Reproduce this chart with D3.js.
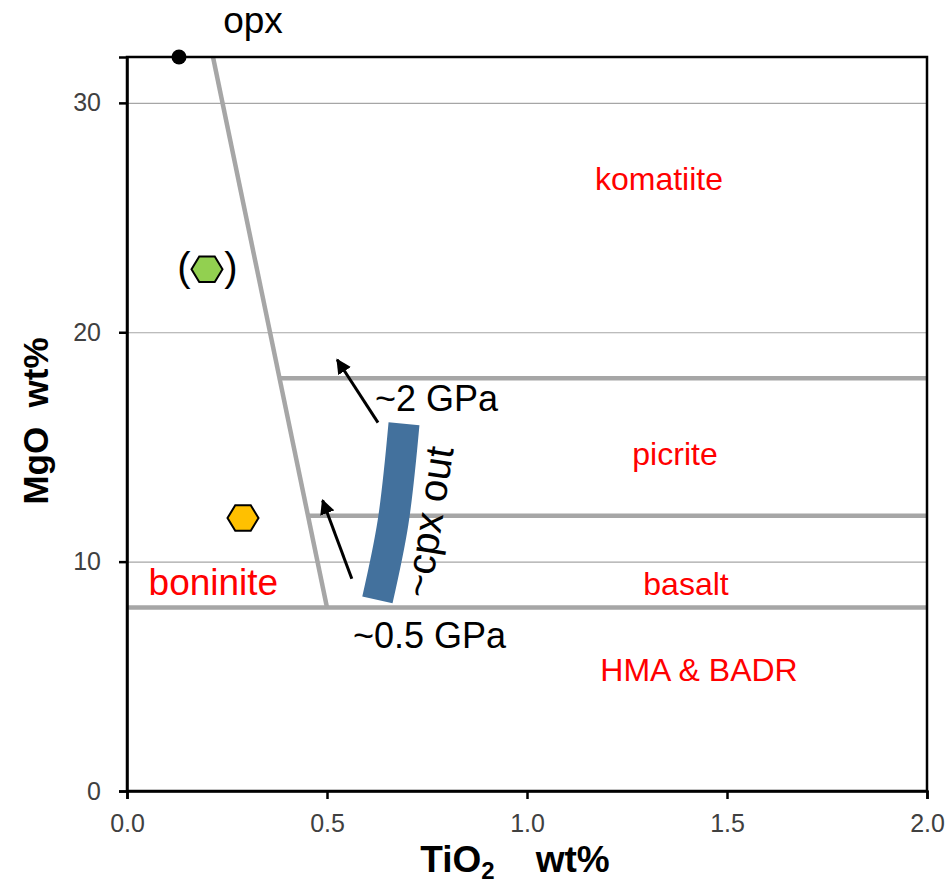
<!DOCTYPE html>
<html>
<head>
<meta charset="utf-8">
<script src="https://cdn.jsdelivr.net/npm/d3@7"></script>
<style>
  html, body { margin: 0; padding: 0; background: #fff; }
  svg text { font-family: Arial, "Liberation Sans", sans-serif; }
  .axis path, .axis line { stroke: #000; stroke-width: 2.5; }
  .axis text { fill: #404040; font-size: 25px; }
  .grid line { stroke: #a6a6a6; stroke-width: 1.2; }
  .grid path { display: none; }
  .field-line { stroke: #a6a6a6; stroke-width: 4.5; fill: none; }
  .region { fill: #ff0000; }
  .note { fill: #000; }
</style>
</head>
<body>
<div id="chart"></div>
<script>
// ── Data ─────────────────────────────────────────────────────────────────
const xTicks = [0.0, 0.5, 1.0, 1.5, 2.0];
const yTicks = [0, 10, 20, 30];

// opx-control boundary (TiO2, MgO)
const opxLine = [[0.215, 32], [0.5, 8]];

// horizontal class boundaries, starting at the opx line (or the y axis)
const boundaries = [
  { mgo: 18, fromOpx: true },
  { mgo: 12, fromOpx: true },
  { mgo: 8,  fromOpx: false },
];

// samples
const samples = [
  { name: "opx",    tio2: 0.13, mgo: 32.0,  shape: "dot", fill: "#000" },
  { name: "green",  tio2: 0.20, mgo: 22.75, shape: "hex", fill: "#92d050" },
  { name: "orange", tio2: 0.29, mgo: 11.9,  shape: "hex", fill: "#ffc000" },
];

// ~cpx out band (centre line)
const cpxOut = [[0.626, 8.33], [0.665, 11.7], [0.6925, 16.01]];

// pressure arrows: tail -> head
const arrows = [
  { from: [0.6275, 16.06], to: [0.5255, 18.8] },
  { from: [0.562, 9.25],   to: [0.489, 12.67] },
];

// rock-type labels
const regions = [
  { text: "komatiite",  tio2: 1.33,   mgo: 26.2 },
  { text: "picrite",    tio2: 1.37,   mgo: 14.2 },
  { text: "basalt",     tio2: 1.3975, mgo: 8.55 },
  { text: "HMA & BADR", tio2: 1.43,   mgo: 4.8 },
];

// ── Layout ───────────────────────────────────────────────────────────────
const totalW = 949, totalH = 885;
const margin = { top: 57, right: 22, bottom: 94, left: 127 };
const W = totalW - margin.left - margin.right;
const H = totalH - margin.top - margin.bottom;

const svg = d3.select("#chart").append("svg")
  .attr("width", totalW)
  .attr("height", totalH);

const g = svg.append("g")
  .attr("transform", `translate(${margin.left},${margin.top})`);

// ── Scales ───────────────────────────────────────────────────────────────
const x = d3.scaleLinear().domain([0, 2]).range([0, W]);
const y = d3.scaleLinear().domain([0, 32]).range([H, 0]);

// ── Grid ─────────────────────────────────────────────────────────────────
g.append("g").attr("class", "grid")
  .call(d3.axisLeft(y).tickValues(yTicks.filter(d => d > 0)).tickSize(-W).tickFormat(""));

// ── Class boundaries ─────────────────────────────────────────────────────
const line = d3.line().x(d => x(d[0])).y(d => y(d[1]));

g.append("path").datum(opxLine).attr("class", "field-line").attr("d", line);

const opxAt = m => {
  const [[x0, y0], [x1, y1]] = opxLine;
  return x0 + (m - y0) / (y1 - y0) * (x1 - x0);
};

boundaries.forEach(b => {
  const start = b.fromOpx ? opxAt(b.mgo) : 0;
  g.append("path")
    .datum([[start, b.mgo], [2, b.mgo]])
    .attr("class", "field-line")
    .attr("d", line);
});

// ── cpx-out band ─────────────────────────────────────────────────────────
g.append("path")
  .datum(cpxOut)
  .attr("fill", "none")
  .attr("stroke", "#43719d")
  .attr("stroke-width", 31)
  .attr("stroke-linecap", "butt")
  .attr("d", d3.line().x(d => x(d[0])).y(d => y(d[1])).curve(d3.curveCatmullRom.alpha(0.5)));

// ── Arrows ───────────────────────────────────────────────────────────────
svg.append("defs").append("marker")
  .attr("id", "head")
  .attr("viewBox", "0 0 10 10")
  .attr("refX", 9).attr("refY", 5)
  .attr("markerWidth", 5).attr("markerHeight", 5)
  .attr("orient", "auto")
  .append("path")
  .attr("d", "M0,0 L10,5 L0,10 Z")
  .attr("fill", "#000");

arrows.forEach(a => {
  g.append("line")
    .attr("x1", x(a.from[0])).attr("y1", y(a.from[1]))
    .attr("x2", x(a.to[0])).attr("y2", y(a.to[1]))
    .attr("stroke", "#000")
    .attr("stroke-width", 3)
    .attr("marker-end", "url(#head)");
});

// ── Samples ──────────────────────────────────────────────────────────────
const hexPath = r => {
  const pts = d3.range(6).map(i => {
    const ang = i * Math.PI / 3;
    return [r * Math.cos(ang), r * 0.95 * Math.sin(ang)];
  });
  return "M" + pts.map(p => p.join(",")).join("L") + "Z";
};

samples.forEach(s => {
  if (s.shape === "dot") {
    g.append("circle")
      .attr("cx", x(s.tio2)).attr("cy", y(s.mgo))
      .attr("r", 7.5)
      .attr("fill", s.fill);
  } else {
    g.append("path")
      .attr("transform", `translate(${x(s.tio2)},${y(s.mgo)})`)
      .attr("d", hexPath(15.5))
      .attr("fill", s.fill)
      .attr("stroke", "#000")
      .attr("stroke-width", 2);
  }
});

// brackets round the green sample
const green = samples[1];
[["(", -23], [")", 24]].forEach(([ch, dx]) => {
  g.append("text")
    .attr("class", "note")
    .style("font-size", "40px")
    .attr("x", x(green.tio2) + dx)
    .attr("y", y(green.mgo))
    .attr("dy", "0.3em")
    .attr("text-anchor", "middle")
    .text(ch);
});

// ── Axes frame ───────────────────────────────────────────────────────────
g.append("rect")
  .attr("width", W).attr("height", H)
  .attr("fill", "none")
  .attr("stroke", "#000")
  .attr("stroke-width", 2.5);

g.append("g")
  .attr("class", "axis")
  .attr("transform", `translate(0,${H})`)
  .call(d3.axisBottom(x).tickValues(xTicks).tickSize(8).tickPadding(15)
    .tickFormat(d3.format(".1f")));

g.append("g")
  .attr("class", "axis")
  .call(d3.axisLeft(y).tickValues(yTicks).tickSize(8).tickPadding(18));

// axis titles
const xTitle = svg.append("text")
  .attr("x", 515).attr("y", 872)
  .attr("text-anchor", "middle")
  .style("font-size", "37px").style("font-weight", "bold");
xTitle.append("tspan").text("TiO");
xTitle.append("tspan").style("font-size", "24px").attr("dy", 7).text("2");
xTitle.append("tspan").attr("dy", -7).text("\u00a0\u00a0\u00a0\u00a0wt%");

svg.append("text")
  .attr("transform", `translate(48,421) rotate(-90)`)
  .attr("text-anchor", "middle")
  .style("font-size", "35px").style("font-weight", "bold")
  .text("MgO\u00a0\u00a0wt%");

// ── Labels ───────────────────────────────────────────────────────────────
regions.forEach(r => {
  g.append("text")
    .attr("class", "region")
    .style("font-size", "32px")
    .attr("x", x(r.tio2)).attr("y", y(r.mgo))
    .attr("text-anchor", "middle")
    .text(r.text);
});

g.append("text")
  .attr("class", "region")
  .style("font-size", "37px")
  .attr("x", x(0.216)).attr("y", y(8.55))
  .attr("text-anchor", "middle")
  .text("boninite");

g.append("text")
  .attr("class", "note")
  .style("font-size", "37px")
  .attr("x", x(0.315)).attr("y", y(33.05))
  .attr("text-anchor", "middle")
  .text("opx");

g.append("text")
  .attr("class", "note")
  .style("font-size", "36px")
  .attr("x", x(0.62)).attr("y", y(16.58))
  .text("~2 GPa");

g.append("text")
  .attr("class", "note")
  .style("font-size", "36px")
  .attr("x", x(0.565)).attr("y", y(6.24))
  .text("~0.5 GPa");

g.append("text")
  .attr("class", "note")
  .style("font-size", "40px")
  .attr("transform", `translate(${x(0.7525)},${y(11.74)}) rotate(-81)`)
  .attr("text-anchor", "middle")
  .attr("dy", "0.35em")
  .text("~cpx out");
</script>
</body>
</html>
